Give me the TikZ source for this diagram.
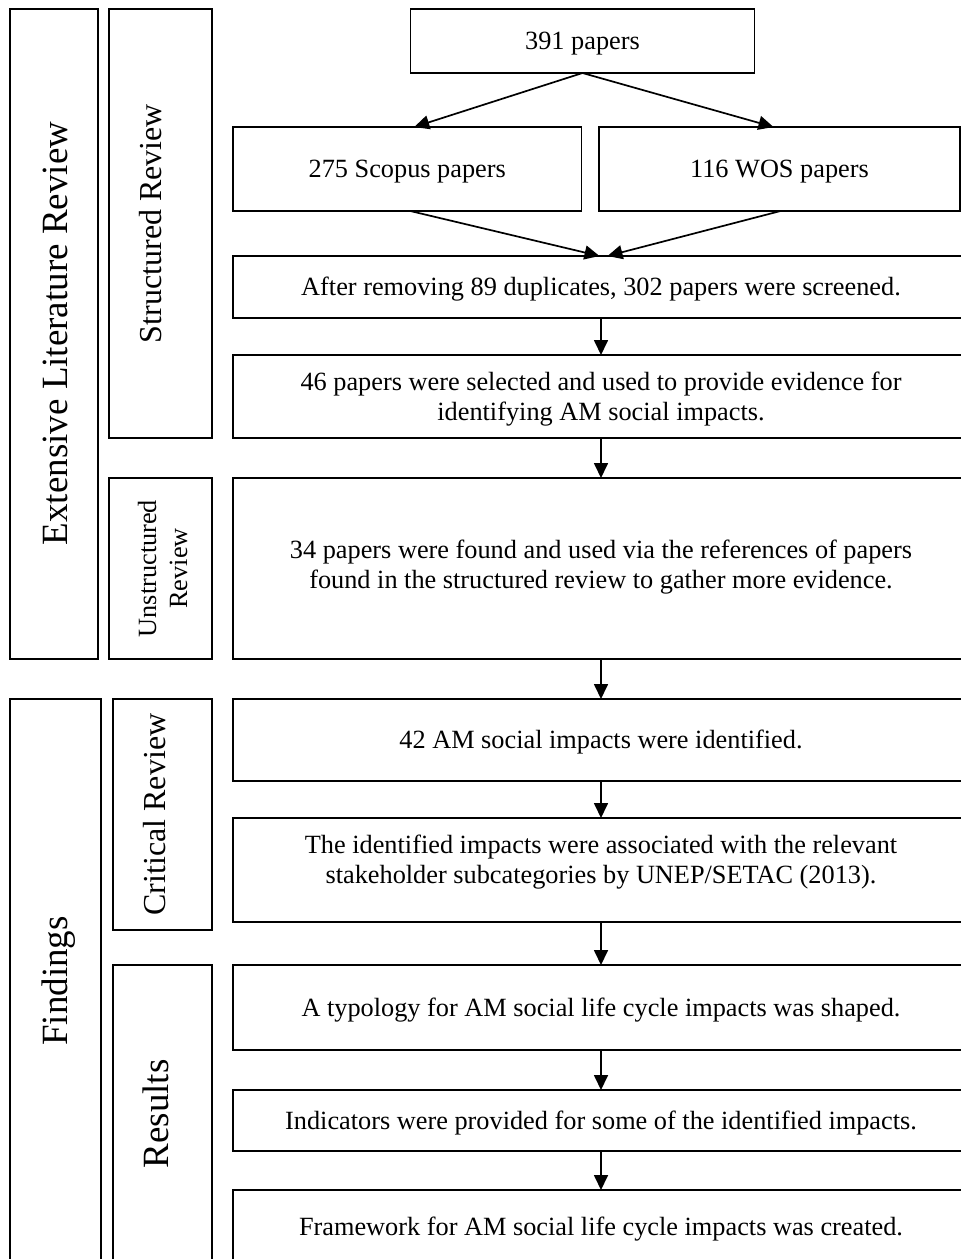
\documentclass[tikz,border=0pt]{standalone}
\usepackage{fontspec}
\setmainfont{Liberation Serif}
\usetikzlibrary{arrows.meta}
\newcommand\bs{\rule[-0.216em]{0pt}{1.107em}}
\begin{document}
\begin{tikzpicture}[x=1pt,y=-1pt,
  box/.style={draw, line width=1.7pt, rectangle, inner sep=0pt, outer sep=0pt,
    font=\fontsize{26.3}{30.2}\selectfont, align=center},
  txt/.style={inner sep=0pt, font=\fontsize{26.3}{30.2}\selectfont, align=center},
  arr/.style={line width=1.7pt, -{Triangle[length=15pt,width=14pt]}},
  vlab/.style={rotate=90, anchor=base, inner sep=0pt},
  big/.style={font=\fontsize{37}{40}\selectfont},
  mid/.style={font=\fontsize{32}{36}\selectfont}]
\useasboundingbox (0,0) rectangle (961,1259);
\fill[white] (0,0) rectangle (961,1259);
\clip (0,0) rectangle (961,1259);

% left columns
\node[box, minimum width=88pt, minimum height=650pt] (elr) at (54,334) {};
\node[box, minimum width=103pt, minimum height=429pt] (struct) at (160.5,223.5) {};
\node[box, minimum width=103pt, minimum height=181pt] (unstruct) at (160.5,568.5) {};
\node[box, minimum width=91pt, minimum height=564pt] (find) at (55.5,981) {};
\node[box, minimum width=99pt, minimum height=231pt] (crit) at (162.5,814.5) {};
\node[box, minimum width=99pt, minimum height=298pt] (res) at (162.5,1114) {};

\node[vlab, big] (elrt) at (67,333.5) {Extensive Literature Review};
\node[vlab, mid] (structt) at (161,223.5) {Structured Review};
\node[rotate=90, txt, font=\fontsize{26.3}{31}\selectfont] (unstructt) at (162.6,568.5) {Unstructured\\Review};
\node[vlab, big] (findt) at (67,981) {Findings};
\node[vlab, mid] (critt) at (165,814.5) {Critical Review};
\node[vlab, big] (rest) at (168,1114) {Results};

% right column
\node[box, minimum width=344pt, minimum height=64pt] (n391) at (582.5,41) {\bs 391 papers};
\node[box, minimum width=348.5pt, minimum height=84pt] (scopus) at (407.25,169) {\bs 275 Scopus papers};
\node[box, minimum width=361pt, minimum height=84pt] (wos) at (779.5,169) {\bs 116 WOS papers};
\node[box, minimum width=736pt, minimum height=62pt] (after) at (601,287) {\bs After removing 89 duplicates, 302 papers were screened.};
\node[box, minimum width=736pt, minimum height=83pt] (sel) at (601,396.5) {\bs 46 papers were selected and used to provide evidence for\\\bs identifying AM social impacts.};
\node[box, minimum width=736pt, minimum height=181pt] (found) at (601,568.5) {};
\node[txt] (foundt) at (601,565) {\bs 34 papers were found and used via the references of papers\\\bs found in the structured review to gather more evidence.};

\node[box, minimum width=736pt, minimum height=82pt] (am) at (601,740) {\bs 42 AM social impacts were identified.};
\node[box, minimum width=736pt, minimum height=104pt] (ident) at (601,870) {};
\node[txt] (identt) at (601,859.5) {\bs The identified impacts were associated with the relevant\\\bs stakeholder subcategories by UNEP/SETAC (2013).};
\node[box, minimum width=736pt, minimum height=85pt] (typo) at (601,1007.5) {\bs A typology for AM social life cycle impacts was shaped.};
\node[box, minimum width=736pt, minimum height=61pt] (indic) at (601,1120.5) {\bs Indicators were provided for some of the identified impacts.};
\node[box, minimum width=736pt, minimum height=73pt] (frame) at (601,1226.5) {\bs Framework for AM social life cycle impacts was created.};

% connectors
\draw[arr] (n391.south) -- ([xshift=7pt]scopus.north);
\draw[arr] (n391.south) -- ([xshift=-6pt]wos.north);
\draw[arr] ([xshift=3pt]scopus.south) -- ([xshift=-1.5pt]after.north);
\draw[arr] ([xshift=1pt]wos.south) -- ([xshift=6.5pt]after.north);
\draw[arr] (after.south) -- (sel.north);
\draw[arr] (sel.south) -- (found.north);
\draw[arr] (found.south) -- (am.north);
\draw[arr] (am.south) -- (ident.north);
\draw[arr] (ident.south) -- (typo.north);
\draw[arr] (typo.south) -- (indic.north);
\draw[arr] (indic.south) -- (frame.north);
\end{tikzpicture}
\end{document}
